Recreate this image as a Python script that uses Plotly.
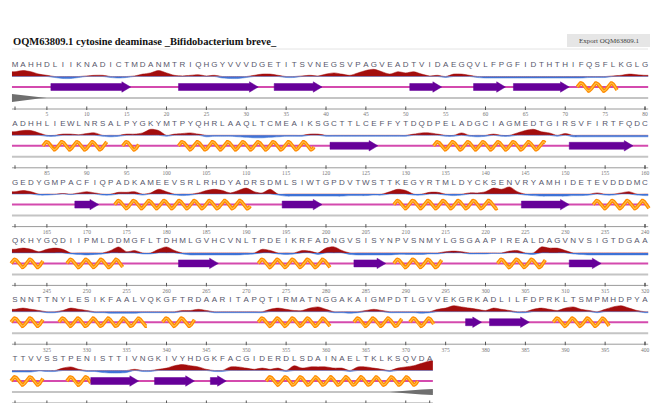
import numpy as np
import plotly.graph_objects as go

# ---------------- data ----------------
title_text = "OQM63809.1 cytosine deaminase _Bifidobacterium breve_"
export_label = "Export OQM63809.1"

sequence = (
    "MAHHDLIIKNADICTMDANMTRIQHGYVVVDGETITSVNEGSVPAGVEADTVIDAEGQVLFPGFIDTHTHIFQSFLKGLG"
    "ADHHLIEWLNRSALPYGKYMTPYQHRLAAQLTCMEAIKSGCTTLCEFFYTDQDPELADGCIAGMEDTGIRSVFIRTFQDC"
    "GEDYGMPACFIQPADKAMEEVSRLRHDYADRSDMLSIWTGPDVTWSTTKEGYRTMLDYCKSENVRYAMHIDETEVDDDMC"
    "QKHYGQDIIPMLDDMGFLTDHMLGVHCVNLTPDEIKRFADNGVSISYNPVSNMYLGSGAAPIREALDAGVNVSIGTDGAA"
    "SNNTTNYLESIKFAALVQKGFTRDAARITAPQTIRMATNGGAKAIGMPDTLGVVEKGRKADLILFDPRKLTSMPMHDPYA"
    "TTVVSSTPENISTTIVNGKIVYHDGKFACGIDERDLSDAINAELTKLKSQVDA"
)

# helices and strands: (first residue, last residue)
helices = [(72, 76),
           (85, 92), (95, 96), (102, 118), (134, 147),
           (174, 190), (209, 221), (234, 240),
           (241, 244), (248, 254), (272, 280), (289, 294), (302, 307),
           (321, 324), (327, 337), (340, 343), (352, 360), (364, 369), (371, 373), (389, 395),
           (401, 404), (408, 410), (433, 451)]
strands = [(6, 15), (22, 31), (34, 39), (51, 54), (59, 62), (64, 70),
           (121, 126), (151, 158),
           (169, 171), (195, 199), (225, 230),
           (262, 266), (284, 287), (311, 314),
           (378, 379), (381, 385),
           (411, 416), (419, 423), (426, 427)]

# per-residue profile (positive = red, negative = blue)
exposure_1 = [4, 5, 4, 2, 1, -1, -2, -2, -1, 0.5, 1, 1, -1, -1.5, -1, 0.5, 2, 3, 5, 3,
              1, 0.5, 1, 1.5, 0.5, 1, -1.5, -2, -2, -1, 1, 2, 2, 1, -1, -1, 0.5, 1, 0.5, 2,
              3, 2, 1, 3, 5, 6, 4, 2, 4, 3, 4, 2, 0.5, 1, -1, 2, 2, 1, -1, -1.5,
              -1.5, -1.5, -1.5, -1.5, -1.5, -1.5, -1.5, -1.5, -1.5, -1.5, -1.5, -1.5, -1, -1, -1, 0.5, 1, 2, 1.5, 1]
exposure_2 = [3, 4, 4, 2, -1, -1, 1, 1, 0.5, 1.5, 2, -1, -1.5, -1, 1, 1, 2, 5, 4, -1,
              1, 1.5, 2, 1, -1.5, -1, -1, -1, -1.5, -2, -2.5, -2.5, -2, -1.5, -1, -1, -1, 1, 1, -1,
              -1, -1, -1, -1, -1, -1, -1, -1, -1, -1, 1, 2, 2, 1, -1, -1, 2, -1, -1.5, -1,
              1, -1, -1, 2, 4, 5, 3, 2, -1, 1.5, -1.5, -1.5, -1.5, -1.5, -1.5, -1.5, -1.5, -1.5, -1.5, -1.5]
exposure_3 = [2, 3, 2, -1, -1, -0.5, 0.5, -0.5, 1, 2, 1, -1, -1, 1.5, 1.5, 2, -1, 1, 4, 2,
              -1, -1.5, -1, 1, 3, 4, 3, 1, 3, 5, 2, 1, 4, -1, -2, -2, -2, -2, -2, -2,
              -2, -2, -1.5, -1.5, -1.5, -1, -1, 2, 4, 3, -1, -1, 1.5, 1.5, -1, -1.5, -1, 1, 1, 2,
              5, 4, 6, 2, -1, -1.5, -2, -2, -2, -2, -1.5, -1.5, -1, 1, -1, -1, 1, 2, -1, -1.5]
exposure_4 = [3, 4, 3, 1, 3, 4, 3, -1, -1.5, -2, -1.5, -1, 2, 5, 1, 2, -1, -1, 3, 5,
              2, -1, -2, -2, -2, -2, -2, -2, -2, -1.5, -1, 3, 2, -1, -1.5, -1, 2, 1.5, -1.5, 4,
              5, 2, -1.5, -2, -2, -2, -2, -2, -1.5, -1.5, -1.5, -1.5, -1, -1, 1, 1.5, 1, -1, -1, -1,
              -0.5, -0.5, 1.5, 2, -1, -1.5, 5, 4, 4, 2, -1, -1.5, -2, -2, -2, -2, -2, -2, -2, -2]
exposure_5 = [2, 3, 2, 1, -1, -1, 1, 3, 2, 1, -1, -1, -1.5, -1.5, -1.5, -1.5, -1, -1, -1, -1,
              -1, 1, 1, 2, 1, -1, -1, -1, -1, -1, -1, -1, 2, 3, 2, 1, 1, 3, 4, 2,
              -1, -1, -1.5, -1, 1, 2, 1, -1, -1, -1, -1, -1.5, -1, 2, 3, 5, 4, 3, 2, 1,
              3, 2, 1, -1, -1, 2, 3, 2, 1, 3, 4, 2, 1, -1, 2, 4, 5, 3, 1, -1]
exposure_6 = [-1.5, -1.5, -1.5, -0.5, -1, -1, 2, 3, 1, -1, -1, -2, -2.5, -2.5, -2, 1, -1, -1, 1, 2,
              4, 5, 4, 3, 1, -1, -1, 3, 3, 2, 1, 2, 1, 2, -1, 4, 2, 3, 3, 3,
              2, 2, -1, 3, 3, 2, 1, -1, 2, 3, 4, 6, 8]

# grey track profile (residue -> thickness)
grey_profile = {1: 8, 2: 5.5, 3: 3, 4: 1, 5: 0,
                448: 0, 449: 1.5, 450: 2.5, 451: 3.5, 452: 5, 453: 6}

# ---------------- layout constants ----------------
W, H = 665, 403
PAGE = 8            # page margin around the figure
ROW_LEN = 80
PX = 630 / 79       # pixels per residue
X0 = 1 - (15 - PAGE) / PX
X1 = X0 + W / PX
ROW_TOP = 65
ROW_PITCH = 58.8
OFF_AREA, OFF_SS, OFF_GREY, OFF_AXIS, OFF_LBL = 11.5, 22, 33, 44, 50
RED_SCALE, BLUE_SCALE = 1.2, 1.0

RED, BLUE = "#a30d0d", "#3f72d6"
PINK, PURPLE = "#d44aae", "#660099"
ORANGE, ORANGE_IN = "#ff8a00", "#ffc247"


def xp(px):
    return (px - PAGE) / W


fig = go.Figure()
exposure_rows = [exposure_1, exposure_2, exposure_3, exposure_4, exposure_5, exposure_6]
rows = [sequence[i:i + ROW_LEN] for i in range(0, len(sequence), ROW_LEN)]


def row_of(res):
    return (res - 1) // ROW_LEN


for r, seq in enumerate(rows):
    yb = ROW_TOP + r * ROW_PITCH
    n = len(seq)
    xl, xr = 0.62, n + 0.4
    xs = list(range(1, n + 1))
    vals = exposure_rows[r]

    # profile area
    base = yb + OFF_AREA
    ax_x = [xl] + xs + [xr]
    pos = [max(v, 0) * RED_SCALE for v in vals]
    neg = [min(v, 0) * BLUE_SCALE for v in vals]
    pos = [pos[0]] + pos + [pos[-1]]
    neg = [neg[0]] + neg + [neg[-1]]
    fig.add_trace(go.Scatter(x=ax_x, y=[base] * len(ax_x), mode="lines",
                             line=dict(width=0, color=RED), hoverinfo="skip"))
    fig.add_trace(go.Scatter(x=ax_x, y=[base - p for p in pos], mode="lines",
                             line=dict(width=0.5, color=RED, shape="spline", smoothing=0.8),
                             fill="tonexty", fillcolor=RED, hoverinfo="skip"))
    fig.add_trace(go.Scatter(x=ax_x, y=[base] * len(ax_x), mode="lines",
                             line=dict(width=0, color=BLUE), hoverinfo="skip"))
    fig.add_trace(go.Scatter(x=ax_x, y=[base - q for q in neg], mode="lines",
                             line=dict(width=0.5, color=BLUE, shape="spline", smoothing=0.8),
                             fill="tonexty", fillcolor=BLUE, hoverinfo="skip"))

    # structure baseline
    yss = yb + OFF_SS
    fig.add_trace(go.Scatter(x=[xl, xr], y=[yss, yss], mode="lines",
                             line=dict(color=PINK, width=2), hoverinfo="skip"))

    # grey track
    yg = yb + OFF_GREY
    fig.add_trace(go.Scatter(x=[xl, xr], y=[yg, yg], mode="lines",
                             line=dict(color="#c4c4c4", width=2), hoverinfo="skip"))
    gkeys = [k for k in sorted(grey_profile) if row_of(k) == r]
    if gkeys:
        gx = [k - r * ROW_LEN for k in gkeys]
        gv = [grey_profile[k] for k in gkeys]
        if gx[0] == 1:
            gx[0] = xl
        if gx[-1] == n:
            gx[-1] = xr
        px_ = gx + gx[::-1]
        py_ = [yg - v / 2 for v in gv] + [yg + v / 2 for v in gv[::-1]]
        fig.add_trace(go.Scatter(x=px_, y=py_, mode="lines", fill="toself",
                                 fillcolor="#6f6f6f", line=dict(width=0, color="#6f6f6f"),
                                 hoverinfo="skip"))

    # axis with ticks
    ya = yb + OFF_AXIS
    fig.add_trace(go.Scatter(x=[xl, xr], y=[ya, ya], mode="lines",
                             line=dict(color="#9a9a9a", width=1), hoverinfo="skip"))
    tick_pos = [1] + [t for t in xs if t % 5 == 0] + [n]
    tx, ty = [], []
    for t in tick_pos:
        tx += [t, t, None]
        ty += [ya - 2.5, ya + 1, None]
    fig.add_trace(go.Scatter(x=tx, y=ty, mode="lines",
                             line=dict(color="#555555", width=1), hoverinfo="skip"))
    if yb + OFF_LBL + 3 < H:   # labels below the window are not shown
        lab = [t for t in xs if t % 5 == 0]
        fig.add_trace(go.Scatter(x=lab, y=[yb + OFF_LBL] * len(lab), mode="text",
                                 text=[str(t + r * ROW_LEN) for t in lab],
                                 textfont=dict(size=5.5, color="#777777", family="Liberation Serif"),
                                 hoverinfo="skip"))

    # sequence letters
    fig.add_trace(go.Scatter(x=xs, y=[yb] * n, mode="text", text=list(seq),
                             textfont=dict(size=8, color="#56566a", family="Liberation Sans"),
                             hoverinfo="skip"))

# helices
hx, hy = [], []
for s, e in helices:
    r = row_of(s)
    yss = ROW_TOP + r * ROW_PITCH + OFF_SS
    xa = s - r * ROW_LEN - 0.5
    xb = e - r * ROW_LEN + 0.5
    t = np.linspace(xa, xb, int((xb - xa) * 20) + 2)
    hx += list(t) + [None]
    hy += list(yss - 4 * np.sin(2 * np.pi * (t - xa) / 1.9)) + [None]
fig.add_trace(go.Scatter(x=hx, y=hy, mode="lines", line=dict(color=ORANGE, width=3.6),
                         hoverinfo="skip"))
fig.add_trace(go.Scatter(x=hx, y=hy, mode="lines", line=dict(color=ORANGE_IN, width=1.1),
                         hoverinfo="skip"))

# strands
sx, sy = [], []
for s, e in strands:
    r = row_of(s)
    yss = ROW_TOP + r * ROW_PITCH + OFF_SS
    xa = s - r * ROW_LEN - 0.5
    xb = e - r * ROW_LEN + 0.5
    L = min(1.1, (xb - xa) * 0.6)
    sx += [xa, xb - L, xb - L, xb, xb - L, xb - L, xa, xa, None]
    sy += [yss - 3.5, yss - 3.5, yss - 5.2, yss, yss + 5.2, yss + 3.5, yss + 3.5, yss - 3.5, None]
fig.add_trace(go.Scatter(x=sx, y=sy, mode="lines", fill="toself", fillcolor=PURPLE,
                         line=dict(color=PURPLE, width=0.5), hoverinfo="skip"))

# header
fig.add_shape(type="line", xref="paper", yref="y", x0=xp(12), x1=xp(648), y0=49, y1=49,
              line=dict(color="#e4e4e4", width=1))
fig.add_shape(type="rect", xref="paper", yref="y", x0=xp(567), x1=xp(650), y0=34, y1=47,
              fillcolor="#e6e6e6", line=dict(width=0))
fig.add_annotation(text="<b>" + title_text + "</b>", xref="paper", yref="y", x=xp(11), y=41,
                   xanchor="left", yanchor="middle", showarrow=False,
                   font=dict(family="Liberation Serif", size=10.5, color="#111111"))
fig.add_annotation(text=export_label, xref="paper", yref="y", x=xp(608.5), y=40.5,
                   xanchor="center", yanchor="middle", showarrow=False,
                   font=dict(family="Liberation Serif", size=7, color="#444444"))

fig.update_layout(width=W, height=H, autosize=False, margin=dict(l=0, r=0, t=0, b=0),
                  paper_bgcolor="white", plot_bgcolor="white", showlegend=False,
                  xaxis=dict(visible=False, range=[X0, X1], fixedrange=True),
                  yaxis=dict(visible=False, range=[H + PAGE, PAGE], fixedrange=True))

fig.write_html("out.html", config={"displayModeBar": False})
